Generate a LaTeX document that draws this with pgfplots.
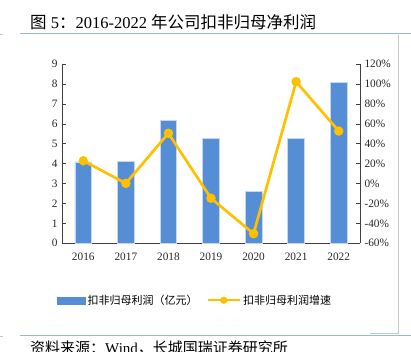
\documentclass[border=0pt]{standalone}
\usepackage{pgfplots}
\pgfplotsset{compat=1.18}
\usepackage{fontspec}
\setmainfont{Liberation Serif}
\newfontfamily\cjk{Noto Sans CJK SC}
\definecolor{barblue}{RGB}{85,142,213}
\definecolor{lineyellow}{RGB}{255,192,0}
\definecolor{axisgray}{RGB}{64,64,64}
\definecolor{rulblue}{RGB}{150,185,225}
\definecolor{framegray}{RGB}{200,200,200}
\pgfplotsset{
  mylinelegend/.style={legend image code/.code={\draw[mark repeat=2,mark phase=2,##1] plot coordinates {(0pt,0pt) (16pt,0pt) (32pt,0pt)};}},
  mybarlegend/.style={legend image code/.code={\fill[barblue] (0pt,-3.5pt) rectangle (28pt,3.5pt);}},
}
\begin{document}
\begin{tikzpicture}
\clip (0pt,0pt) rectangle (411pt,352pt);
% page decorations
\node[anchor=base west, inner sep=0pt] at (30pt,323.5pt) {\fontsize{16.5}{18}\selectfont{\cjk 图} 5{\cjk ：}2016-2022 {\cjk 年公司扣非归母净利润}};
\draw[rulblue, line width=1pt] (20pt,318pt) -- (411pt,318pt);
\draw[rulblue, line width=1pt] (20pt,16pt) -- (411pt,16pt);
\draw[framegray, line width=0.8pt] (0pt,318pt) -- (3pt,318pt);
\draw[framegray, line width=0.8pt] (0pt,16pt) -- (3pt,16pt);
\draw[framegray, line width=0.8pt] (398pt,317pt) -- (398pt,19pt) -- (370pt,19pt);
\node[anchor=base west, inner sep=0pt] at (30pt,-2pt) {\fontsize{15}{17}\selectfont{\cjk 资料来源：}Wind{\cjk ，长城国瑞证券研究所}};
\begin{axis}[
  at={(62pt,108.7pt)}, anchor=south west,
  scale only axis, width=298pt, height=179pt,
  xmin=-0.5, xmax=6.5, ymin=0, ymax=9,
  xtick={0,...,6},
  xticklabels={2016,2017,2018,2019,2020,2021,2022},
  ytick={0,...,9},
  yticklabels={0,1,2,3,4,5,6,7,8,9},
  axis y line*=left, axis x line*=bottom,
  axis line style={axisgray, line width=0.9pt, -},
  tick align=inside, major tick length=4pt,
  y tick style={axisgray, line width=0.8pt},
  x tick style={draw=none},
  tick label style={font=\fontsize{11.3}{13}\selectfont, text=black!85},
  xticklabel style={yshift=-6pt},
  yticklabel style={xshift=-1pt},
]
\addplot[ybar, bar width=16.7pt, fill=barblue, draw=white!65!barblue, line width=0.6pt]
  coordinates {(0,4.09) (1,4.10) (2,6.16) (3,5.26) (4,2.61) (5,5.29) (6,8.07)};
\end{axis}
\begin{axis}[
  at={(62pt,108.7pt)}, anchor=south west,
  scale only axis, width=298pt, height=179pt,
  xmin=-0.5, xmax=6.5, ymin=-60, ymax=120,
  ytick={-60,-40,-20,0,20,40,60,80,100,120},
  yticklabels={-60\%,-40\%,-20\%,0\%,20\%,40\%,60\%,80\%,100\%,120\%},
  axis y line*=right, axis x line=none,
  axis line style={axisgray, line width=0.9pt, -},
  tick align=inside, major tick length=4pt,
  y tick style={axisgray, line width=0.8pt},
  tick label style={font=\fontsize{11.3}{13}\selectfont, text=black!85},
  yticklabel style={xshift=1pt},
  legend columns=2,
  legend style={at={(-0.0168,-0.318)}, anchor=west, draw=none, fill=none,
    inner sep=0pt, font=\fontsize{11}{13}\selectfont\cjk,
    /tikz/every even column/.append style={column sep=7pt}},
  legend cell align=left,
]
\addlegendimage{mybarlegend}
\addlegendentry{扣非归母利润（亿元）}
\addlegendimage{lineyellow, line width=2.5pt, mark=*, mark size=2.3pt, mylinelegend}
\addlegendentry{扣非归母利润增速}
\addplot[lineyellow, line width=2.7pt, mark=*, mark size=3.3pt, forget plot]
  coordinates {(0,23) (1,0.3) (2,50.6) (3,-14.7) (4,-50.3) (5,102.5) (6,52.9)};
\end{axis}
\end{tikzpicture}
\end{document}
